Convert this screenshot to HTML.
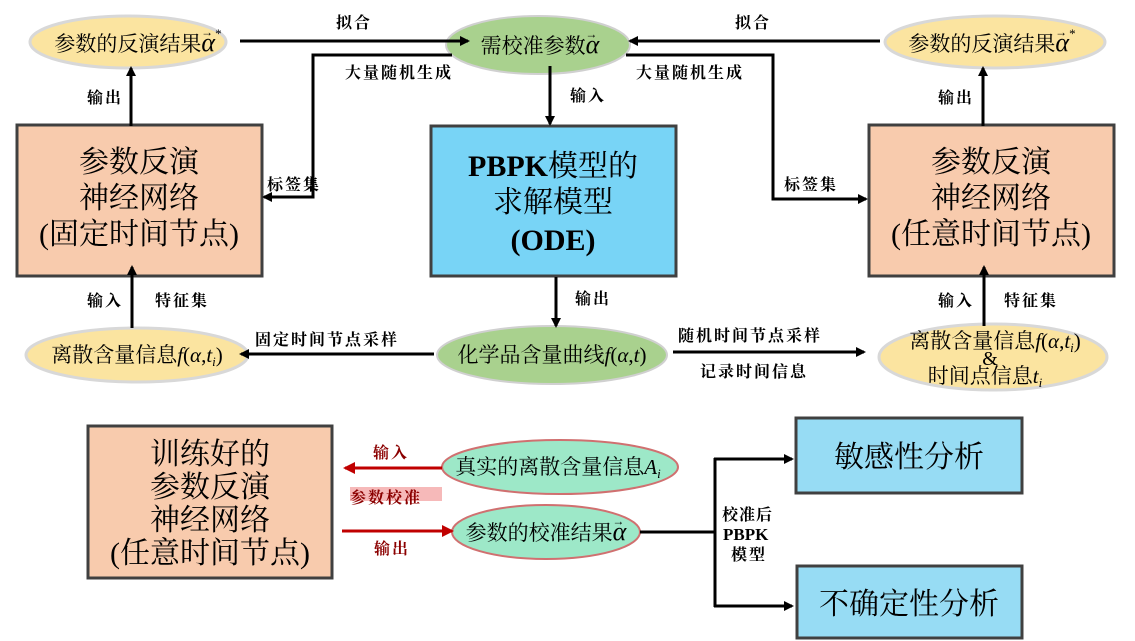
<!DOCTYPE html>
<html><head><meta charset="utf-8"><style>
html,body{margin:0;padding:0;background:#fff;}
svg{display:block;}
.lb{font-family:"Liberation Serif","Noto Serif CJK SC",serif;font-weight:bold;font-size:16px;letter-spacing:2px;fill:#000;}
.big{font-family:"Liberation Serif","Noto Serif CJK SC",serif;font-size:30px;fill:#000;}
.el{font-family:"Liberation Serif","Noto Serif CJK SC",serif;font-size:21px;fill:#000;}
.red{fill:#8b0000;}
</style></head><body>
<svg width="1135" height="641" viewBox="0 0 1135 641" xmlns="http://www.w3.org/2000/svg">
<defs>
<marker id="a" markerWidth="10" markerHeight="10" refX="8" refY="5" orient="auto" markerUnits="userSpaceOnUse"><path d="M0,0 L10,5 L0,10 z" fill="#000"/></marker>
<marker id="r" markerWidth="12" markerHeight="12" refX="10" refY="6" orient="auto" markerUnits="userSpaceOnUse"><path d="M0,0 L12,6 L0,12 z" fill="#c00000"/></marker>
</defs>

<rect x="17" y="125" width="245" height="151" fill="#f8cbad" stroke="#404040" stroke-width="3"/>
<rect x="431" y="126" width="245" height="150" fill="#78d4f6" stroke="#404040" stroke-width="3"/>
<rect x="869" y="125" width="245" height="151" fill="#f8cbad" stroke="#404040" stroke-width="3"/>
<rect x="88" y="426" width="244" height="152" fill="#f8cbad" stroke="#404040" stroke-width="3"/>
<rect x="796" y="418" width="226" height="75" fill="#97dcf4" stroke="#404040" stroke-width="3"/>
<rect x="797" y="566" width="225" height="72" fill="#97dcf4" stroke="#404040" stroke-width="3"/>

<ellipse cx="128" cy="42" rx="98" ry="26" fill="#fbe4a0" stroke="#d8d8d8" stroke-width="3"/>
<ellipse cx="538" cy="45" rx="92" ry="29" fill="#a9d18e" stroke="#d0d0d0" stroke-width="2"/>
<ellipse cx="995" cy="42" rx="110" ry="26" fill="#fbe4a0" stroke="#d8d8d8" stroke-width="3"/>
<ellipse cx="137" cy="355" rx="111" ry="27" fill="#fbe4a0" stroke="#d8d8d8" stroke-width="3"/>
<ellipse cx="552" cy="355" rx="115" ry="29" fill="#a9d18e" stroke="#d0d0d0" stroke-width="2"/>
<ellipse cx="993" cy="357" rx="114" ry="33" fill="#fbe4a0" stroke="#d8d8d8" stroke-width="3"/>
<ellipse cx="560" cy="467" rx="118" ry="27" fill="#9de8c8" stroke="#d07070" stroke-width="2"/>
<ellipse cx="546" cy="532" rx="94" ry="27" fill="#9de8c8" stroke="#d07070" stroke-width="2"/>

<g stroke="#000" stroke-width="3" fill="none">
<line x1="240" y1="41" x2="468" y2="41" marker-end="url(#a)"/>
<polyline points="452,55 313,55 313,197 264,197" marker-end="url(#a)"/>
<line x1="880" y1="41" x2="630" y2="41" marker-end="url(#a)"/>
<polyline points="626,55 773,55 773,199 866,199" marker-end="url(#a)"/>
<line x1="131" y1="126" x2="131" y2="68" marker-end="url(#a)"/>
<line x1="132" y1="328" x2="132" y2="267" marker-end="url(#a)"/>
<line x1="983" y1="126" x2="983" y2="68" marker-end="url(#a)"/>
<line x1="984" y1="326" x2="984" y2="267" marker-end="url(#a)"/>
<line x1="550" y1="66" x2="550" y2="124" marker-end="url(#a)"/>
<line x1="556" y1="277" x2="556" y2="326" marker-end="url(#a)"/>
<line x1="434" y1="354" x2="241" y2="354" marker-end="url(#a)"/>
<line x1="673" y1="352" x2="864" y2="352" marker-end="url(#a)"/>
<line x1="640" y1="532" x2="715" y2="532"/>
<line x1="715" y1="458" x2="715" y2="607"/>
<line x1="714" y1="459" x2="792" y2="459" marker-end="url(#a)"/>
<line x1="714" y1="606" x2="792" y2="606" marker-end="url(#a)"/>
</g>
<g stroke="#c00000" stroke-width="3">
<line x1="442" y1="468" x2="345" y2="468" marker-end="url(#r)"/>
<line x1="342" y1="531" x2="452" y2="531" marker-end="url(#r)"/>
</g>
<rect x="350" y="487" width="92" height="14" fill="#f4a8a8" opacity="0.8"/>

<g class="big" text-anchor="middle">
<text x="139" y="172">参数反演</text>
<text x="139" y="208">神经网络</text>
<text x="139" y="244">(固定时间节点)</text>
<text x="991" y="172">参数反演</text>
<text x="991" y="208">神经网络</text>
<text x="991" y="244">(任意时间节点)</text>
<text x="210" y="464">训练好的</text>
<text x="210" y="497">参数反演</text>
<text x="210" y="530">神经网络</text>
<text x="210" y="563">(任意时间节点)</text>
<text x="909" y="467">敏感性分析</text>
<text x="909" y="614">不确定性分析</text>
<text x="553" y="176"><tspan font-weight="bold">PBPK</tspan>模型的</text>
<text x="553" y="212">求解模型</text>
<text x="553" y="250" font-weight="bold">(ODE)</text>
</g>

<g class="el" text-anchor="middle">
<text x="138" y="51">参数的反演结果<tspan font-style="italic" font-size="26">α</tspan><tspan font-size="12" dx="-14" dy="-15">→</tspan><tspan font-size="13" dx="2" dy="2">*</tspan></text>
<text x="540" y="53">需校准参数<tspan font-style="italic" font-size="26">α</tspan><tspan font-size="12" dx="-14" dy="-15">→</tspan></text>
<text x="992" y="51">参数的反演结果<tspan font-style="italic" font-size="26">α</tspan><tspan font-size="12" dx="-14" dy="-15">→</tspan><tspan font-size="13" dx="2" dy="2">*</tspan></text>
<text x="137" y="362">离散含量信息<tspan font-style="italic">f</tspan>(<tspan font-style="italic">α</tspan>,<tspan font-style="italic">t</tspan><tspan font-style="italic" font-size="13" dy="4">i</tspan><tspan dy="-4">)</tspan></text>
<text x="552" y="362">化学品含量曲线<tspan font-style="italic">f</tspan>(<tspan font-style="italic">α</tspan>,<tspan font-style="italic">t</tspan>)</text>
<text x="995" y="348">离散含量信息<tspan font-style="italic">f</tspan>(<tspan font-style="italic">α</tspan>,<tspan font-style="italic">t</tspan><tspan font-style="italic" font-size="13" dy="4">i</tspan><tspan dy="-4">)</tspan></text>
<text x="990" y="365" font-size="20">&amp;</text>
<text x="985" y="383">时间点信息<tspan font-style="italic">t</tspan><tspan font-style="italic" font-size="13" dy="4">i</tspan></text>
<text x="558" y="474">真实的离散含量信息<tspan font-style="italic">A</tspan><tspan font-style="italic" font-size="13" dy="4">i</tspan></text>
<text x="546" y="540">参数的校准结果<tspan font-style="italic" font-size="26">α</tspan><tspan font-size="12" dx="-14" dy="-15">→</tspan></text>
</g>

<g class="lb">
<text x="336" y="28">拟合</text>
<text x="735" y="28">拟合</text>
<text x="345" y="78">大量随机生成</text>
<text x="636" y="78">大量随机生成</text>
<text x="267" y="190">标签集</text>
<text x="784" y="190">标签集</text>
<text x="87" y="103">输出</text>
<text x="938" y="103">输出</text>
<text x="570" y="101">输入</text>
<text x="575" y="304">输出</text>
<text x="87" y="306">输入</text>
<text x="155" y="306">特征集</text>
<text x="938" y="306">输入</text>
<text x="1004" y="306">特征集</text>
<text x="255" y="345">固定时间节点采样</text>
<text x="678" y="341">随机时间节点采样</text>
<text x="700" y="377">记录时间信息</text>
<text class="red" x="373" y="458">输入</text>
<text class="red" x="350" y="503">参数校准</text>
<text class="red" x="374" y="554">输出</text>
<text x="722" y="520" letter-spacing="1">校准后</text>
<text x="723" y="540" letter-spacing="0" font-size="17">PBPK</text>
<text x="731" y="560">模型</text>
</g>
</svg>
</body></html>
